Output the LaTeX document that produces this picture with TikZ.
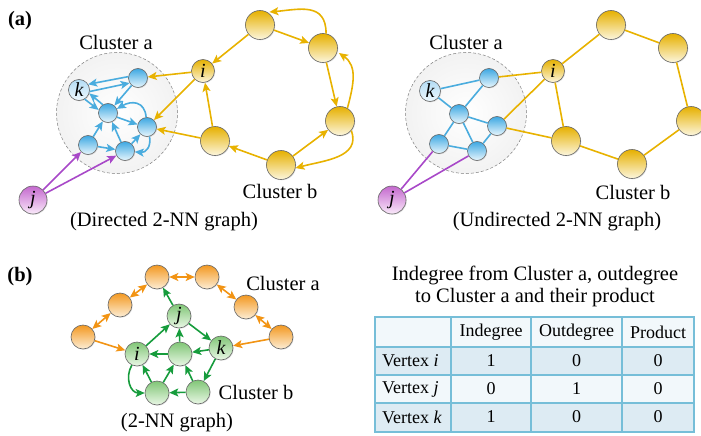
\documentclass[tikz,border=0pt]{standalone}
\usepackage{fontspec}
\setmainfont{Liberation Serif}
\usetikzlibrary{arrows.meta,shadows}
\definecolor{bdark}{RGB}{62,168,226}
\definecolor{blight}{RGB}{232,246,253}
\definecolor{kdark}{RGB}{180,221,245}
\definecolor{klight}{RGB}{238,248,253}
\definecolor{ydark}{RGB}{230,176,0}
\definecolor{ylight}{RGB}{252,246,222}
\definecolor{pdark}{RGB}{196,104,206}
\definecolor{plight}{RGB}{250,234,250}
\definecolor{odark}{RGB}{243,152,32}
\definecolor{olight}{RGB}{253,238,214}
\definecolor{gdark}{RGB}{128,198,118}
\definecolor{glight}{RGB}{234,247,230}
\definecolor{cblue}{RGB}{74,172,222}
\definecolor{cyel}{RGB}{232,178,0}
\definecolor{cpur}{RGB}{168,72,200}
\definecolor{cora}{RGB}{242,148,20}
\definecolor{cgrn}{RGB}{22,156,60}
\definecolor{tlight}{RGB}{242,248,251}
\definecolor{tdark}{RGB}{221,235,243}
\definecolor{tline}{RGB}{118,190,216}
\newcommand\labfont{\fontsize{20.5}{24}\selectfont}
\newcommand\tabfont{\fontsize{18}{21}\selectfont}
\newcommand\ltrfont{\fontsize{20}{22}\selectfont\itshape}
\tikzset{
  >={Stealth[length=9pt,width=8pt,inset=2pt]},
  nd/.style={circle,draw=black!60,line width=0.6pt,inner sep=0pt,font=\ltrfont,
    drop shadow={opacity=0.22,shadow xshift=0.8pt,shadow yshift=-0.8pt}},
  bn/.style={nd,minimum size=19pt,top color=bdark,bottom color=blight},
  kn/.style={nd,minimum size=21pt,top color=kdark,bottom color=klight},
  yin/.style={nd,minimum size=23pt,top color=ydark,bottom color=ylight},
  yn/.style={nd,minimum size=29pt,top color=ydark,bottom color=ylight},
  pn/.style={nd,minimum size=28pt,top color=pdark,bottom color=plight},
  orn/.style={nd,minimum size=24pt,top color=odark,bottom color=olight},
  grn/.style={nd,minimum size=24pt,top color=gdark,bottom color=glight},
  clu/.style={circle,draw=black!50,dash pattern=on 3pt off 2pt,line width=0.5pt,
    inner color=white,outer color=black!5,minimum size=121pt},
  eblue/.style={draw=cblue,line width=1.6pt},
  eyel/.style={draw=cyel,line width=1.6pt},
  epur/.style={draw=cpur,line width=1.6pt},
  eora/.style={draw=cora,line width=1.6pt},
  egrn/.style={draw=cgrn,line width=1.6pt},
  lab/.style={font=\labfont,inner sep=0pt},
  tab/.style={font=\tabfont,inner sep=0pt},
}
\begin{document}
\begin{tikzpicture}[x=1pt,y=-1pt]
\useasboundingbox (0,0) rectangle (701,436);

% ---------------- (a) directed ----------------
\node[lab,font=\labfont\bfseries] (la) at (20,21) {(a)};
\node[clu] (Lca) at (117,113) {};
\node[lab] (Lcla) at (116,42) {Cluster a};
\node[lab] (Lclb) at (280,191) {Cluster b};
\node[lab] (Lcap) at (164,222) {(Directed 2-NN graph)};

\node[bn] (Ltr) at (138,78) {};
\node[kn] (Lk) at (79,90) {k};
\node[bn] (Lc) at (108,113) {};
\node[bn] (Lr) at (147,127) {};
\node[bn] (Lbl) at (88,145) {};
\node[bn] (Lbc) at (125,151) {};
\node[yin] (Li) at (203,71) {i};
\node[yn] (Ltop) at (260,25) {};
\node[yn] (Lur) at (323,48) {};
\node[yn] (Lry) at (340,121) {};
\node[yn] (Lbot) at (281,165) {};
\node[yn] (Lly) at (215,141) {};
\node[pn] (Lj) at (33,200) {j};

\draw[eblue,->] (Ltr.172) -- (Lk.32);
\draw[eblue,->] (Lk.-8) -- (Ltr.211);
\draw[eblue,->] (Ltr) -- (Lc);
\draw[eblue,->] (Lc.122) -- (Lk.-18);
\draw[eblue,->] (Lk.-58) -- (Lc.162);
\draw[eblue,->] (Lc.-25) -- (Lr.165);
\draw[eblue,->] (Lr.95) to[out=95,in=30,looseness=1.4] (Lc.25);
\draw[eblue,->] (Lbl) -- (Lc);
\draw[eblue,->] (Lbl) -- (Lbc);
\draw[eblue,->] (Lbc) -- (Lc);
\draw[eblue,->] (Lbc) -- (Lr);
\draw[eblue,->] (Lr.-75) to[out=-80,in=-5,looseness=1.3] (Lbc.-5);

\draw[eyel,->] (Li) -- (Ltr);
\draw[eyel,->] (Li) -- (Lr);
\draw[eyel,->] (Lly) -- (Lr);
\draw[eyel,->] (Lly) -- (Li);
\draw[eyel,->] (Ltop) -- (Li);
\draw[eyel,->] (Ltop) -- (Lur);
\draw[eyel,->,shorten >=2pt] (Lur.78) to[out=90,in=5,looseness=1.3] (Ltop.60);
\draw[eyel,->] (Lur) -- (Lry);
\draw[eyel,->,shorten >=2pt] (Lry.60) to[out=75,in=-35,looseness=1.1] (Lur.-15);
\draw[eyel,->] (Lbot) -- (Lry);
\draw[eyel,->] (Lry.-40) to[out=-70,in=15,looseness=1.1] (Lbot.-12);
\draw[eyel,->] (Lbot) -- (Lly);

\draw[epur,->] (Lj) -- (Lbl);
\draw[epur,->] (Lj) -- (Lbc);

% ---------------- (a) undirected ----------------
\node[clu] (Rca) at (466,113) {};
\node[lab] (Rcla) at (466,42) {Cluster a};
\node[lab] (Rclb) at (633,192) {Cluster b};
\node[lab] (Rcap) at (557,222) {(Undirected 2-NN graph)};

\node[bn] (Rtr) at (489,78) {};
\node[kn] (Rk) at (430,91) {k};
\node[bn] (Rc) at (459,114) {};
\node[bn] (Rr) at (497,126) {};
\node[bn] (Rbl) at (439,144) {};
\node[bn] (Rbc) at (477,151) {};
\node[yin] (Ri) at (553,71) {i};
\node[yn] (Rtop) at (611,25) {};
\node[yn] (Rur) at (673,48) {};
\node[yn] (Rry) at (691,121) {};
\node[yn] (Rbot) at (632,164) {};
\node[yn] (Rly) at (566,141) {};
\node[pn] (Rj) at (392,200) {j};

\draw[eblue] (Rk) -- (Rtr);
\draw[eblue] (Rtr) -- (Rc);
\draw[eblue] (Rk) -- (Rc);
\draw[eblue] (Rc) -- (Rr);
\draw[eblue] (Rc) -- (Rbl);
\draw[eblue] (Rc) -- (Rbc);
\draw[eblue] (Rbl) -- (Rbc);
\draw[eblue] (Rbc) -- (Rr);
\draw[eyel] (Rtr) -- (Ri);
\draw[eyel] (Rr) -- (Ri);
\draw[eyel] (Rr) -- (Rly);
\draw[eyel] (Ri) -- (Rtop);
\draw[eyel] (Ri) -- (Rly);
\draw[eyel] (Rtop) -- (Rur);
\draw[eyel] (Rur) -- (Rry);
\draw[eyel] (Rry) -- (Rbot);
\draw[eyel] (Rbot) -- (Rly);
\draw[epur] (Rj) -- (Rbl);
\draw[epur] (Rj) -- (Rbc);

% ---------------- (b) ----------------
\node[lab,font=\labfont\bfseries] (lb) at (20,277) {(b)};
\node[lab] (Bcla) at (283,283) {Cluster a};
\node[lab] (Bclb) at (256,392) {Cluster b};
\node[lab] (Bcap) at (177,423) {(2-NN graph)};

\node[orn] (Bt1) at (157,277) {};
\node[orn] (Bt2) at (207,277) {};
\node[orn] (Blm) at (120,305) {};
\node[orn] (Bll) at (83,337) {};
\node[orn] (Brm) at (246,307) {};
\node[orn] (Brl) at (281,337) {};
\node[grn] (Bj) at (179,316) {j};
\node[grn] (Bi) at (137,354) {i};
\node[grn] (Bc) at (180,354) {};
\node[grn] (Bk) at (221,348) {k};
\node[grn] (Bbl) at (157,393) {};
\node[grn] (Bbr) at (198,392) {};

\draw[eora,<->] (Bt1) -- (Bt2);
\draw[eora,<->] (Bt1) -- (Blm);
\draw[eora,<->] (Blm) -- (Bll);
\draw[eora,<->] (Bt2) -- (Brm);
\draw[eora,<->] (Brm) -- (Brl);
\draw[eora,->] (Bll) -- (Bi);
\draw[eora,->] (Brl) -- (Bk);

\draw[egrn,->] (Bj) -- (Bt1);
\draw[egrn,->] (Bi) -- (Bj);
\draw[egrn,->] (Bc) -- (Bj);
\draw[egrn,->] (Bj) -- (Bk);
\draw[egrn,->] (Bc) -- (Bi);
\draw[egrn,->] (Bk) -- (Bc);
\draw[egrn,->] (Bk) -- (Bbr);
\draw[egrn,->] (Bbr) -- (Bbl);
\draw[egrn,->] (Bbl) -- (Bi);
\draw[egrn,->] (Bbl) -- (Bc);
\draw[egrn,->] (Bbr) -- (Bc);
\draw[egrn,->] (Bi.-115) to[out=-120,in=180,looseness=1.2] (Bbl.180);

% ---------------- table ----------------
\node[lab] (T1) at (535,275) {Indegree from Cluster a, outdegree};
\node[lab] (T2) at (535,298) {to Cluster a and their product};
\fill[tlight] (375,317) rectangle (694,347);
\fill[tdark]  (375,347) rectangle (694,375);
\fill[tlight] (375,375) rectangle (694,403);
\fill[tdark]  (375,403) rectangle (694,432);
\draw[tline,line width=1.1pt] (451,317) -- (451,432) (531,317) -- (531,432) (622,317) -- (622,432)
  (375,347) -- (694,347) (375,375) -- (694,375) (375,403) -- (694,403);
\draw[tline,line width=1.5pt] (375,317) rectangle (694,432);

\node[tab] (h1) at (491,332) {Indegree};
\node[tab] (h2) at (576.5,332) {Outdegree};
\node[tab] (h3) at (658,332) {Product};
\node[tab,anchor=west] (r1) at (382,361) {Vertex \textit{i}};
\node[tab,anchor=west] (r2) at (382,389) {Vertex \textit{j}};
\node[tab,anchor=west] (r3) at (382,417) {Vertex \textit{k}};
\node[tab] (v11) at (491,361) {1};
\node[tab] (v12) at (576.5,361) {0};
\node[tab] (v13) at (658,361) {0};
\node[tab] (v21) at (491,389) {0};
\node[tab] (v22) at (576.5,389) {1};
\node[tab] (v23) at (658,389) {0};
\node[tab] (v31) at (491,417) {1};
\node[tab] (v32) at (576.5,417) {0};
\node[tab] (v33) at (658,417) {0};
\end{tikzpicture}
\end{document}
